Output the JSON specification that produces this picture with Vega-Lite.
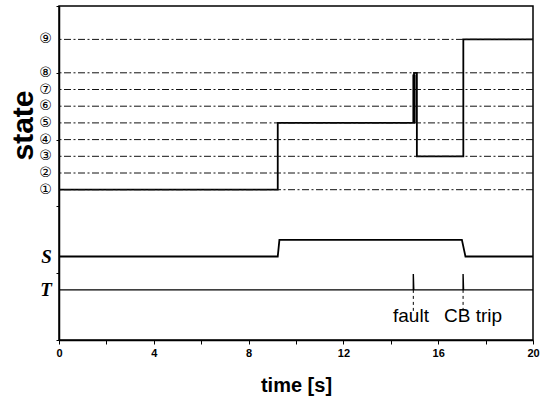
{
  "$schema": "https://vega.github.io/schema/vega-lite/v6.json",
  "width": 474,
  "height": 334,
  "autosize": "none",
  "padding": {"left": 59, "top": 6, "right": 11, "bottom": 58},
  "background": "white",
  "config": {
    "view": {"stroke": "black", "strokeWidth": 1.5},
    "axis": {"domainColor": "black", "tickColor": "black", "labelColor": "black", "titleColor": "black", "grid": false}
  },
  "datasets": {
    "state": [
      {"i": 0, "t": 0, "v": 9},
      {"i": 1, "t": 9.23, "v": 9},
      {"i": 2, "t": 9.23, "v": 13},
      {"i": 3, "t": 14.98, "v": 13},
      {"i": 4, "t": 14.98, "v": 16},
      {"i": 5, "t": 15.1, "v": 16},
      {"i": 6, "t": 15.1, "v": 11},
      {"i": 7, "t": 17.06, "v": 11},
      {"i": 8, "t": 17.06, "v": 18},
      {"i": 9, "t": 20, "v": 18}
    ],
    "thick": [{"t": 14.98, "v": 13, "v2": 15.9}],
    "S": [
      {"i": 0, "t": 0, "v": 5},
      {"i": 1, "t": 9.23, "v": 5},
      {"i": 2, "t": 9.3, "v": 6},
      {"i": 3, "t": 17.0, "v": 6},
      {"i": 4, "t": 17.15, "v": 5},
      {"i": 5, "t": 20, "v": 5}
    ],
    "T": [
      {"i": 0, "t": 0, "v": 3},
      {"i": 1, "t": 14.95, "v": 3},
      {"i": 2, "t": 14.95, "v": 3.95},
      {"i": 3, "t": 14.97, "v": 3},
      {"i": 4, "t": 17.05, "v": 3},
      {"i": 5, "t": 17.05, "v": 3.95},
      {"i": 6, "t": 17.07, "v": 3},
      {"i": 7, "t": 20, "v": 3}
    ],
    "levels": [
      {"level": 9, "label": "①"}, {"level": 10, "label": "②"}, {"level": 11, "label": "③"},
      {"level": 12, "label": "④"}, {"level": 13, "label": "⑤"}, {"level": 14, "label": "⑥"},
      {"level": 15, "label": "⑦"}, {"level": 16, "label": "⑧"}, {"level": 18, "label": "⑨"}
    ],
    "signals": [
      {"level": 5, "label": "S"},
      {"level": 3, "label": "T"}
    ],
    "events": [
      {"t": 14.95, "label": "fault", "tx": 14.85},
      {"t": 17.05, "label": "CB trip", "tx": 17.47}
    ]
  },
  "layer": [
    {
      "data": {"name": "state"},
      "mark": {"type": "line", "color": "black", "strokeWidth": 1.8, "interpolate": "linear"},
      "encoding": {
        "x": {
          "field": "t", "type": "quantitative",
          "scale": {"domain": [0, 20], "nice": false, "zero": false},
          "title": "time [s]",
          "axis": {
            "values": [0, 2, 4, 6, 8, 10, 12, 14, 16, 18, 20],
            "labelExpr": "datum.value % 4 == 0 ? datum.label : ''",
            "labelFont": "Liberation Sans",
            "labelFontSize": 11,
            "labelFontWeight": "bold",
            "labelFlush": false,
            "labelOverlap": false,
            "tickSize": 4,
            "labelPadding": 3,
            "domainWidth": 1.5,
            "titleFont": "Liberation Sans",
            "titleFontSize": 20,
            "titleFontWeight": "bold",
            "titleY": 51,
            "titleBaseline": "alphabetic"
          }
        },
        "y": {
          "field": "v", "type": "quantitative",
          "scale": {"domain": [0, 20], "nice": false, "zero": false},
          "title": "state",
          "axis": {
            "values": [0, 1, 2, 3, 4, 5, 6, 7, 8, 9, 10, 11, 12, 13, 14, 15, 16, 17, 18, 19, 20],
            "labels": false,
            "tickSize": 3,
            "domainWidth": 1.5,
            "titleFont": "Liberation Sans",
            "titleFontSize": 30,
            "titleFontWeight": "bold",
            "titleAngle": -90,
            "titleAlign": "center",
            "titleBaseline": "alphabetic",
            "titleX": -27,
            "titleY": 119
          }
        },
        "order": {"field": "i", "type": "quantitative"}
      }
    },
    {
      "data": {"name": "levels"},
      "mark": {"type": "rule", "color": "#111", "strokeWidth": 1, "strokeDash": [7, 2.5, 2, 2.5]},
      "encoding": {
        "y": {"field": "level", "type": "quantitative", "title": "state"}
      }
    },
    {
      "data": {"name": "levels"},
      "mark": {"type": "text", "font": "DejaVu Sans", "fontSize": 14, "color": "black", "align": "right", "baseline": "middle"},
      "encoding": {
        "x": {"datum": -0.3},
        "y": {"field": "level", "type": "quantitative", "title": "state"},
        "text": {"field": "label"}
      }
    },
    {
      "data": {"name": "signals"},
      "mark": {"type": "text", "font": "Liberation Serif", "fontSize": 19, "fontStyle": "italic", "fontWeight": "bold", "color": "black", "align": "right", "baseline": "middle"},
      "encoding": {
        "x": {"datum": -0.3},
        "y": {"field": "level", "type": "quantitative", "title": "state"},
        "text": {"field": "label"}
      }
    },
    {
      "data": {"name": "thick"},
      "mark": {"type": "rule", "color": "black", "strokeWidth": 3.2},
      "encoding": {
        "x": {"field": "t", "type": "quantitative", "title": "time [s]"},
        "y": {"field": "v", "type": "quantitative", "title": "state"},
        "y2": {"field": "v2"}
      }
    },
    {
      "data": {"name": "S"},
      "mark": {"type": "line", "color": "black", "strokeWidth": 1.8},
      "encoding": {
        "x": {"field": "t", "type": "quantitative", "title": "time [s]"},
        "y": {"field": "v", "type": "quantitative", "title": "state"},
        "order": {"field": "i", "type": "quantitative"}
      }
    },
    {
      "data": {"name": "T"},
      "mark": {"type": "line", "color": "black", "strokeWidth": 1.4},
      "encoding": {
        "x": {"field": "t", "type": "quantitative", "title": "time [s]"},
        "y": {"field": "v", "type": "quantitative", "title": "state"},
        "order": {"field": "i", "type": "quantitative"}
      }
    },
    {
      "data": {"name": "events"},
      "mark": {"type": "rule", "color": "black", "strokeWidth": 1, "strokeDash": [3, 3]},
      "encoding": {
        "x": {"field": "t", "type": "quantitative", "title": "time [s]"},
        "y": {"datum": 3},
        "y2": {"datum": 1.7}
      }
    },
    {
      "data": {"name": "events"},
      "mark": {"type": "text", "font": "Liberation Sans", "fontSize": 19, "color": "black", "align": "center", "baseline": "alphabetic"},
      "encoding": {
        "x": {"field": "tx", "type": "quantitative", "title": "time [s]"},
        "y": {"datum": 1.08},
        "text": {"field": "label"}
      }
    }
  ]
}
